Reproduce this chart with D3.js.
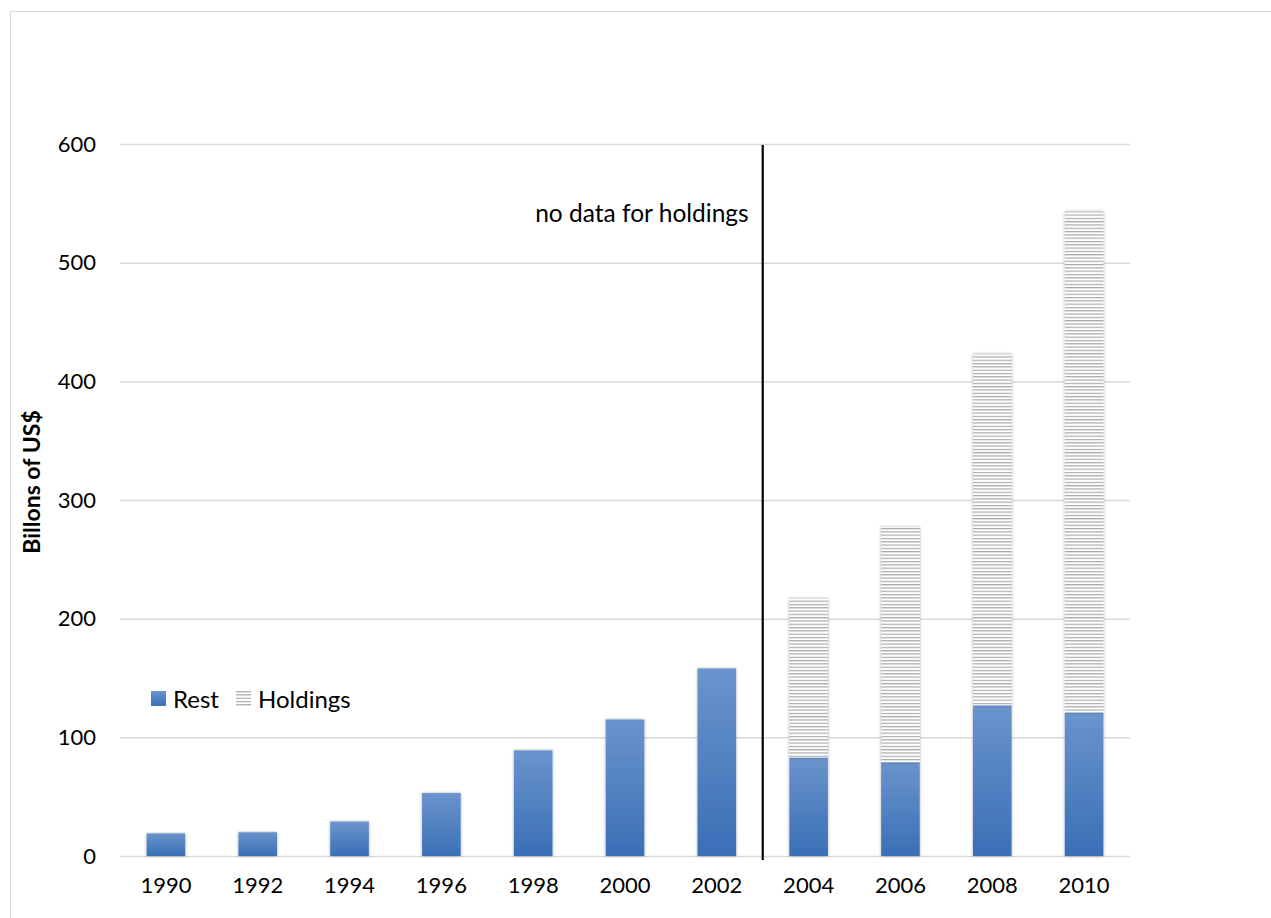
<!DOCTYPE html>
<html>
<head>
<meta charset="utf-8">
<script src="https://cdn.jsdelivr.net/npm/d3@7"></script>
<style>
  body { margin: 0; background: #fff; }
</style>
</head>
<body>
<div id="paper"></div>
<script>
const years = ['1990','1992','1994','1996','1998','2000','2002','2004','2006','2008','2010'];
const rest = [19, 20, 29, 53, 89, 115, 158, 83, 79, 127, 121];
const holdings = [0, 0, 0, 0, 0, 0, 0, 134, 198, 296, 422];
const yTicks = [0, 100, 200, 300, 400, 500, 600];

const font = 'Lato, "Open Sans", sans-serif';

const svg = d3.select("#paper")
  .append("svg")
  .attr("id", "canvas")
  .attr("width", 1271)
  .attr("height", 918);

// outer chart frame
svg.append('rect')
  .attr('x', 10.5).attr('y', 11.5)
  .attr('width', 1280).attr('height', 920)
  .attr('fill', 'none')
  .attr('stroke', '#d9d9d9');

const defs = svg.append('defs');
const grad = defs.append('linearGradient')
  .attr('id', 'restGrad').attr('x1', 0).attr('y1', 0).attr('x2', 0).attr('y2', 1);
grad.append('stop').attr('offset', '0%').attr('stop-color', '#6a94cc');
grad.append('stop').attr('offset', '100%').attr('stop-color', '#3a6fb6');

const pat = defs.append('pattern')
  .attr('id', 'hatch').attr('patternUnits', 'userSpaceOnUse')
  .attr('width', 8).attr('height', 3.3);
pat.append('rect').attr('width', 8).attr('height', 3.3).attr('fill', '#ffffff');
pat.append('rect').attr('y', 0).attr('width', 8).attr('height', 1.2).attr('fill', '#a9a9a9');

const shadow = defs.append('filter').attr('id', 'shadow')
  .attr('x', '-20%').attr('y', '-5%').attr('width', '140%').attr('height', '110%');
shadow.append('feDropShadow').attr('dx', 0).attr('dy', 0).attr('stdDeviation', 1.5)
  .attr('flood-color', '#000').attr('flood-opacity', 0.35);

const x = d3.scaleBand().domain(years).range([120, 1130]).paddingInner(0.58).paddingOuter(0.29);
const y = d3.scaleLinear().domain([0, 600]).range([856, 144]);

// gridlines
svg.append('g')
  .selectAll('line')
  .data(yTicks)
  .join('line')
  .attr('x1', 120).attr('x2', 1130)
  .attr('y1', d => y(d) + 0.5).attr('y2', d => y(d) + 0.5)
  .attr('stroke', '#d9d9d9').attr('stroke-width', 1.5);

// y tick labels
const yAxis = svg.append('g')
  .attr('transform', 'translate(96,0)')
  .call(d3.axisLeft(y).tickValues(yTicks).tickSize(0).tickPadding(0));
yAxis.select('.domain').remove();
yAxis.selectAll('text')
  .attr('font-family', font).attr('font-size', '22px').attr('fill', '#000');

// x tick labels
const xAxis = svg.append('g')
  .attr('transform', 'translate(0,874)')
  .call(d3.axisBottom(x).tickSize(0).tickPadding(3));
xAxis.select('.domain').remove();
xAxis.selectAll('text')
  .attr('font-family', font).attr('font-size', '22px').attr('fill', '#000');

const stackData = years.map((yr, i) => ({year: yr, rest: rest[i], holdings: holdings[i]}));

svg.append('g')
  .selectAll('.rest_bar')
  .data(stackData)
  .join('rect')
  .attr('class', 'rest_bar')
  .attr('x', d => x(d.year))
  .attr('width', x.bandwidth())
  .attr('y', d => y(d.rest))
  .attr('height', d => y(0) - y(d.rest))
  .attr('fill', 'url(#restGrad)')
  .attr('filter', 'url(#shadow)');

svg.append('g')
  .selectAll('.hold_bar')
  .data(stackData.filter(d => d.holdings > 0))
  .join('rect')
  .attr('class', 'hold_bar')
  .attr('x', d => x(d.year))
  .attr('width', x.bandwidth())
  .attr('y', d => y(d.rest + d.holdings))
  .attr('height', d => y(d.rest) - y(d.rest + d.holdings))
  .attr('fill', 'url(#hatch)')
  .attr('filter', 'url(#shadow)');

// divider between 2002 and 2004
const divX = (x('2002') + x.bandwidth() + x('2004')) / 2;
svg.append('line')
  .attr('x1', divX).attr('x2', divX)
  .attr('y1', 145).attr('y2', 860)
  .attr('stroke', '#000').attr('stroke-width', 2.2);

svg.append('text')
  .attr('x', divX - 14).attr('y', 222)
  .attr('text-anchor', 'end')
  .attr('font-family', font).attr('font-size', '24.5px')
  .text('no data for holdings');

// y axis title
svg.append('text')
  .attr('transform', 'translate(40,482) rotate(-90)')
  .attr('text-anchor', 'middle')
  .attr('font-family', font).attr('font-size', '23px').attr('font-weight', 'bold')
  .text('Billons of US$');

// legend
const legend = svg.append('g').attr('transform', 'translate(151,691)');
legend.append('rect').attr('width', 15).attr('height', 15).attr('fill', 'url(#restGrad)');
legend.append('text').attr('x', 22).attr('y', 17)
  .attr('font-family', font).attr('font-size', '24px').text('Rest');
legend.append('rect').attr('x', 85).attr('width', 15).attr('height', 15).attr('fill', 'url(#hatch)');
legend.append('text').attr('x', 107).attr('y', 17)
  .attr('font-family', font).attr('font-size', '24px').text('Holdings');
</script>
</body>
</html>
